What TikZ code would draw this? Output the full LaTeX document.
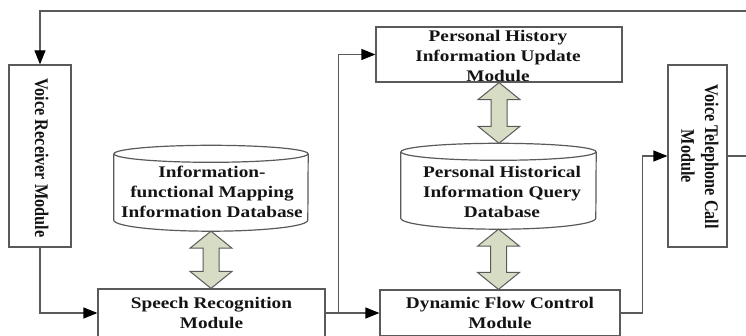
\documentclass[tikz,border=0pt]{standalone}
\usepackage{fontspec}
\setmainfont{Liberation Serif}
\newfontfamily\hfont{Liberation Serif}[FakeStretch=1.19]
\usetikzlibrary{arrows.meta,calc}
\definecolor{lc}{RGB}{90,90,90}
\definecolor{tc}{RGB}{20,20,20}
\definecolor{fatfill}{RGB}{214,221,196}
\tikzset{
 boxline/.style={draw=lc,line width=1.2pt},
 mbox/.style={boxline,rectangle,inner sep=0pt},
 htxt/.style={align=center,text=tc,font=\hfont\bfseries\fontsize{16.2}{20}\selectfont,inner sep=0pt},
 vtxt/.style={rotate=-90,text=tc,inner sep=0pt},
 conn/.style={draw=lc,line width=1.2pt,-{Triangle[length=14pt,width=11pt,color=black,fill=black]}},
 fat/.style={draw=lc,line width=1pt,fill=fatfill,line join=miter},
 cylbox/.style={rectangle,inner sep=0pt},
}
\newcommand\vtext[1]{\scalebox{1}[1.19]{\fontsize{16.2}{20}\selectfont\bfseries\begin{tabular}{@{}c@{}}#1\end{tabular}}}
\newcommand\fatdbl[2]{%
 \path[fat] let \p1=(#1), \p2=(#2) in
 (\x1,\y1) -- (\x1+21pt,\y1-17pt) -- (\x1+8pt,\y1-17pt) -- (\x1+8pt,\y2+17pt) -- (\x1+21pt,\y2+17pt)
 -- (\x1,\y2) -- (\x1-21pt,\y2+17pt) -- (\x1-8pt,\y2+17pt) -- (\x1-8pt,\y1-17pt) -- (\x1-21pt,\y1-17pt) -- cycle;}
\newcommand\cylout[2]{%
 \draw[boxline] (#1.north west) -- (#1.south west) arc[start angle=180,end angle=360,x radius=#2,y radius=11pt] -- (#1.north east);
 \draw[boxline] (#1.north) ellipse[x radius=#2,y radius=8.5pt];}
\begin{document}
\begin{tikzpicture}[x=1pt,y=1pt]
\useasboundingbox (0,0) rectangle (746,335);
\clip (0,0) rectangle (746,335);
\fill[white] (0,0) rectangle (746,335);

% boxes
\node[mbox,minimum width=62pt,minimum height=182pt] (vrm) at (40,179) {};
\node[vtxt] (vrmt) at (40,177) {\vtext{Voice Receiver Module}};

\node[mbox,minimum width=227pt,minimum height=48pt,htxt] (sr) at (211.5,22) {Speech Recognition\\Module};
\node[mbox,minimum width=240pt,minimum height=46pt,htxt] (dfc) at (500,22) {Dynamic Flow Control\\Module};

\node[mbox,minimum width=246pt,minimum height=55pt] (phu) at (499,280.5) {};
\node[htxt] (phut) at (498,279.5) {Personal History\\Information Update\\Module};

\node[mbox,minimum width=59pt,minimum height=182pt] (vtc) at (697.5,179) {};
\node[vtxt] (vtct) at (698,178.5) {\vtext{Voice Telephone Call\\Module}};

% cylinders
\node[cylbox,minimum width=194pt,minimum height=66pt] (db1) at (211,148) {};
\cylout{db1}{97pt}
\node[htxt] (db1t) at (212,143.5) {Information-\\functional Mapping\\Information Database};

\node[cylbox,minimum width=195pt,minimum height=66pt] (db2) at (498.5,150) {};
\cylout{db2}{97.5pt}
\node[htxt] (db2t) at (502,143.5) {Personal Historical\\Information Query\\Database};

% fat double arrows
\fatdbl{$(db1.south)+(0,-11pt)$}{sr.north}
\fatdbl{phu.south}{$(db2.north)+(0,8.5pt)$}
\fatdbl{$(db2.south)+(0,-11pt)$}{dfc.north}

% connectors
\coordinate (fb) at (775,324);
\draw[conn] (vtc.east) -| (fb) -| (vrm.north);
\draw[conn] (vrm.south) |- (sr.west);
\draw[conn] (sr.east) -- (dfc.west);
\coordinate (br) at ($(sr.east)+(13,0)$);
\draw[conn] (br) |- (phu.west);
\draw[conn] (dfc.east) -- ++(22,0) |- (vtc.west);
\end{tikzpicture}
\end{document}
